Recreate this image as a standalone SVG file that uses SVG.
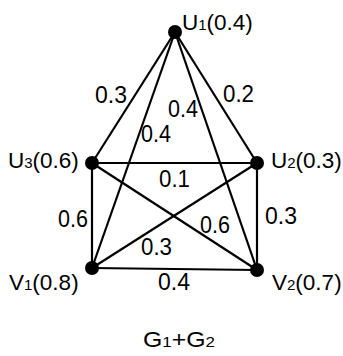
<svg xmlns="http://www.w3.org/2000/svg" width="343" height="356" viewBox="0 0 343 356">
<style>
.e{stroke:#000;stroke-width:2.2;fill:none}
.n{fill:#000}
text{font-family:"Liberation Sans",Arial,sans-serif;font-size:24px;fill:#000}
.l{font-size:22.5px}
.s{font-size:15px}
.t{font-size:22px}
</style>
<rect width="343" height="356" fill="#fff"/>
<g id="edges">
<line class="e" x1="175" y1="32" x2="92" y2="163"/>
<line class="e" x1="175" y1="32" x2="257" y2="163"/>
<line class="e" x1="175" y1="32" x2="92" y2="268"/>
<line class="e" x1="175" y1="32" x2="257" y2="270"/>
<line class="e" x1="92" y1="163" x2="257" y2="163"/>
<line class="e" x1="92" y1="163" x2="92" y2="268"/>
<line class="e" x1="92" y1="163" x2="257" y2="270"/>
<line class="e" x1="257" y1="163" x2="92" y2="268"/>
<line class="e" x1="257" y1="163" x2="257" y2="270"/>
<line class="e" x1="92" y1="268" x2="257" y2="270"/>
</g>
<g id="edge-labels">
<text x="95" y="103" textLength="32" lengthAdjust="spacingAndGlyphs">0.3</text>
<text x="223" y="102" textLength="31" lengthAdjust="spacingAndGlyphs">0.2</text>
<text x="168" y="117" textLength="30" lengthAdjust="spacingAndGlyphs">0.4</text>
<text x="141" y="142" textLength="30" lengthAdjust="spacingAndGlyphs">0.4</text>
<text x="159" y="187" textLength="31" lengthAdjust="spacingAndGlyphs">0.1</text>
<text x="58" y="227" textLength="30" lengthAdjust="spacingAndGlyphs">0.6</text>
<text x="265" y="224" textLength="32" lengthAdjust="spacingAndGlyphs">0.3</text>
<text x="200" y="233" textLength="30" lengthAdjust="spacingAndGlyphs">0.6</text>
<text x="141" y="255" textLength="31" lengthAdjust="spacingAndGlyphs">0.3</text>
<text x="158" y="290" textLength="32" lengthAdjust="spacingAndGlyphs">0.4</text>
</g>
<g id="U1"><circle class="n" cx="175" cy="32" r="7"/><text class="l" x="182" y="30">U<tspan class="s">1</tspan>(0.4)</text></g>
<g id="U2"><circle class="n" cx="257" cy="163" r="7"/><text class="l" x="271" y="168">U<tspan class="s">2</tspan>(0.3)</text></g>
<g id="U3"><circle class="n" cx="92" cy="163" r="7"/><text class="l" x="8" y="168">U<tspan class="s">3</tspan>(0.6)</text></g>
<g id="V1"><circle class="n" cx="92" cy="268" r="7"/><text class="l" x="9" y="290">V<tspan class="s">1</tspan>(0.8)</text></g>
<g id="V2"><circle class="n" cx="257" cy="270" r="7"/><text class="l" x="272" y="290">V<tspan class="s">2</tspan>(0.7)</text></g>
<g id="title"><text class="t" x="143" y="347" textLength="72" lengthAdjust="spacingAndGlyphs">G<tspan class="s">1</tspan>+G<tspan class="s">2</tspan></text></g>
</svg>
